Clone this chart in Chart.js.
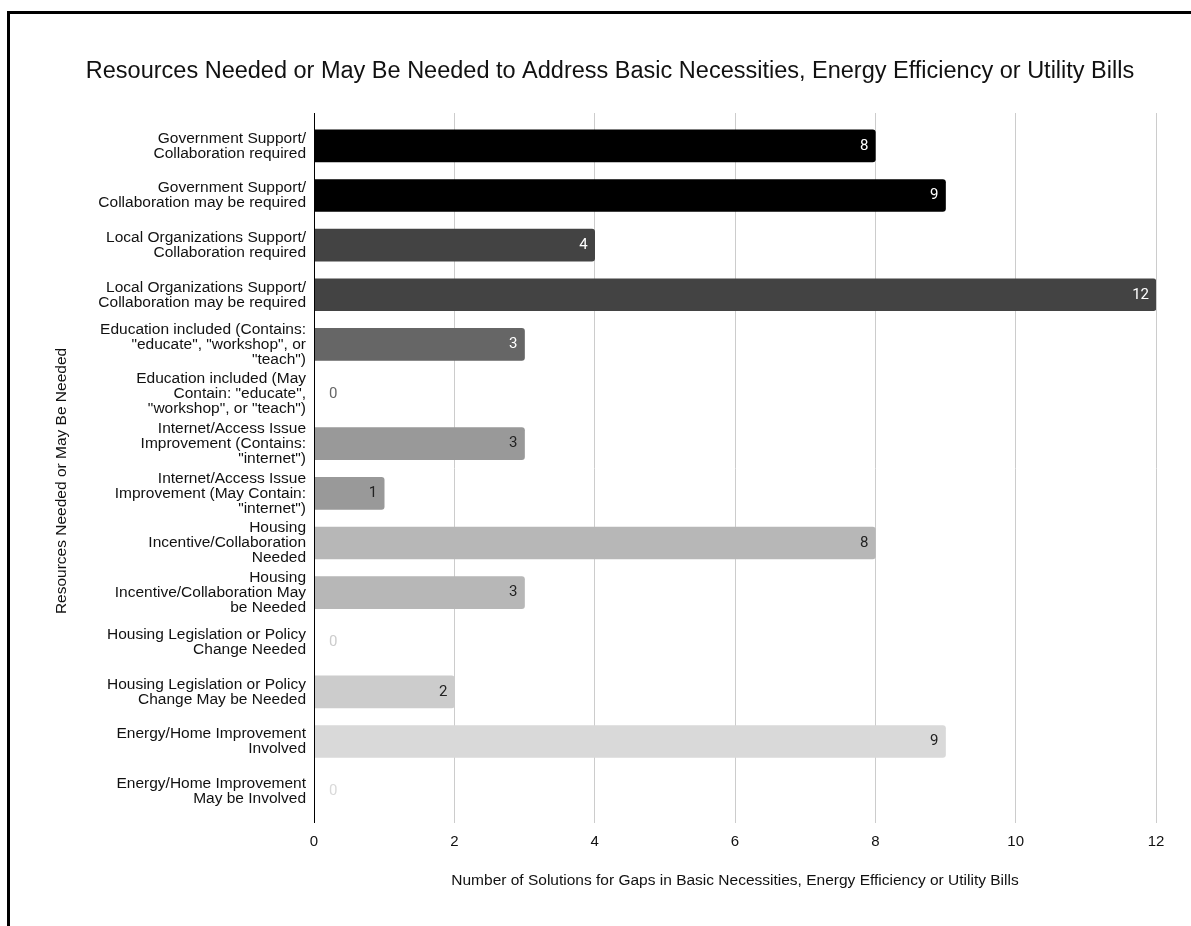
<!DOCTYPE html>
<html><head><meta charset="utf-8">
<script src="https://cdn.jsdelivr.net/npm/chart.js@4.4.1/dist/chart.umd.min.js"></script>
<style>
html,body{margin:0;padding:0;background:#fff;overflow:hidden;}
#wrap{position:relative;width:1191px;height:926px;overflow:hidden;}
#frame{position:absolute;left:7px;top:11px;width:1300px;height:1000px;border-left:3px solid #000;border-top:3px solid #000;}
canvas{position:absolute;left:0;top:0;}
</style></head><body>
<div id="wrap"><div id="frame"></div><canvas id="c" width="1191" height="926"></canvas></div>
<script>
const chartTitle = 'Resources Needed or May Be Needed to Address Basic Necessities, Energy Efficiency or Utility Bills';
const xAxisTitle = 'Number of Solutions for Gaps in Basic Necessities, Energy Efficiency or Utility Bills';
const yAxisTitle = 'Resources Needed or May Be Needed';
const categories = [
  ['Government Support/', 'Collaboration required'],
  ['Government Support/', 'Collaboration may be required'],
  ['Local Organizations Support/', 'Collaboration required'],
  ['Local Organizations Support/', 'Collaboration may be required'],
  ['Education included (Contains:', '"educate", "workshop", or', '"teach")'],
  ['Education included (May', 'Contain: "educate",', '"workshop", or "teach")'],
  ['Internet/Access Issue', 'Improvement (Contains:', '"internet")'],
  ['Internet/Access Issue', 'Improvement (May Contain:', '"internet")'],
  ['Housing', 'Incentive/Collaboration', 'Needed'],
  ['Housing', 'Incentive/Collaboration May', 'be Needed'],
  ['Housing Legislation or Policy', 'Change Needed'],
  ['Housing Legislation or Policy', 'Change May be Needed'],
  ['Energy/Home Improvement', 'Involved'],
  ['Energy/Home Improvement', 'May be Involved']
];
const values = [8, 9, 4, 12, 3, 0, 3, 1, 8, 3, 0, 2, 9, 0];
const barColors = ['#000000','#000000','#434343','#434343','#666666','#666666','#999999','#999999','#b7b7b7','#b7b7b7','#cccccc','#cccccc','#d9d9d9','#d9d9d9'];
const xTicks = [0, 2, 4, 6, 8, 10, 12];

const FONT = '"Liberation Sans", Arial, Helvetica, sans-serif';

function isDark(hex){
  const r=parseInt(hex.slice(1,3),16),g=parseInt(hex.slice(3,5),16),b=parseInt(hex.slice(5,7),16);
  return (0.299*r+0.587*g+0.114*b)/255 < 0.5;
}
function align(p){ return Math.round(p - 0.5) + 0.5; }

const extras = {
  id: 'extras',
  afterDraw(chart){
    const ctx = chart.ctx, ca = chart.chartArea, xs = chart.scales.x;
    ctx.save();
    // title
    ctx.font = '23.5px ' + FONT;
    ctx.fillStyle = '#111';
    ctx.textAlign = 'center';
    ctx.textBaseline = 'middle';
    ctx.fillText(chartTitle, 610, 72);
    // y axis title
    ctx.save();
    ctx.translate(62, 481);
    ctx.rotate(-Math.PI / 2);
    ctx.font = '15.5px ' + FONT;
    ctx.fillText(yAxisTitle, 0, 0);
    ctx.restore();
    // grid extension above plot
    ctx.strokeStyle = '#cccccc';
    ctx.lineWidth = 1;
    xTicks.forEach(t => {
      const x = align(xs.getPixelForValue(t));
      ctx.beginPath(); ctx.moveTo(x, ca.top - 8); ctx.lineTo(x, ca.top + 1); ctx.stroke();
    });
    // axis line
    const x0 = align(xs.getPixelForValue(0));
    ctx.strokeStyle = '#000';
    ctx.beginPath(); ctx.moveTo(x0, ca.top - 8); ctx.lineTo(x0, ca.bottom + 7); ctx.stroke();
    // value labels
    const meta = chart.getDatasetMeta(0);
    ctx.font = '15px Roboto, ' + FONT;
    ctx.textBaseline = 'middle';
    meta.data.forEach((bar, i) => {
      const v = values[i];
      if (v === 0) {
        ctx.fillStyle = barColors[i];
        ctx.textAlign = 'left';
        ctx.fillText(String(v), bar.base + 15, bar.y);
      } else {
        ctx.fillStyle = isDark(barColors[i]) ? '#ffffff' : '#222222';
        ctx.textAlign = 'right';
        ctx.fillText(String(v), bar.x - 7, bar.y);
      }
    });
    ctx.restore();
  }
};

new Chart(document.getElementById('c'), {
  type: 'bar',
  data: {
    labels: categories,
    datasets: [{
      data: values,
      backgroundColor: barColors,
      borderWidth: 0,
      borderRadius: 3,
      borderSkipped: 'start',
      barThickness: 32
    }]
  },
  options: {
    indexAxis: 'y',
    responsive: false,
    animation: false,
    events: [],
    layout: { padding: { left: 29, right: 35, top: 121, bottom: 30 } },
    plugins: { legend: { display: false }, title: { display: false }, tooltip: { enabled: false } },
    scales: {
      x: {
        min: 0, max: 12,
        afterBuildTicks: s => { s.ticks = xTicks.map(v => ({ value: v })); },
        afterFit: s => { s.height = 80; },
        grid: { color: '#cccccc', drawTicks: true, tickLength: 7, lineWidth: 1 },
        border: { display: false },
        ticks: { color: '#111', font: { family: FONT, size: 15 }, padding: 10 },
        title: { display: true, text: xAxisTitle, color: '#111', font: { family: FONT, size: 15.5 }, padding: { top: 0, bottom: 6 } }
      },
      y: {
        afterFit: s => { s.width = 285; },
        grid: { display: false, drawTicks: false },
        border: { display: true, color: '#000' },
        ticks: { color: '#111', padding: 8, autoSkip: false, font: { family: FONT, size: 15.5, lineHeight: 0.97 } },
        title: { display: false }
      }
    }
  },
  plugins: [extras]
});
</script>
</body></html>
